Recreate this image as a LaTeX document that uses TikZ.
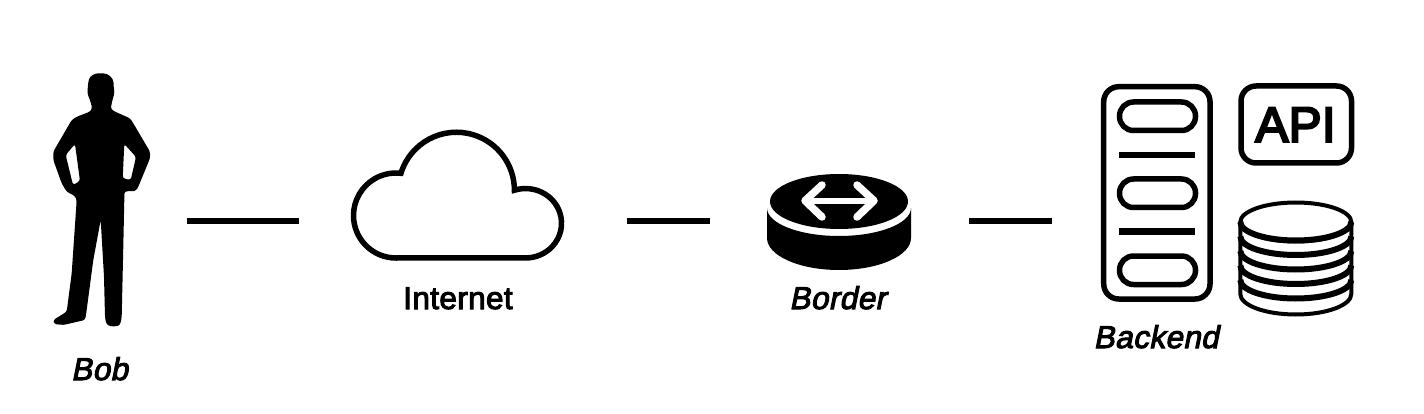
\documentclass[tikz,border=0pt]{standalone}
\usepackage{fontspec}
\setmainfont{Liberation Sans}
\newfontfamily\labelfont[FakeBold=3.2,LetterSpace=1.2]{Liberation Sans}
\newfontfamily\labelit[FakeBold=3.2,FakeSlant=0.2,LetterSpace=1.2]{Liberation Sans}
\newfontfamily\apifont[FakeBold=4.5,LetterSpace=0.5]{Liberation Sans}
\tikzset{
  ink/.style={line width=5.5pt,draw=black},
  wire/.style={line width=6pt,draw=black},
  pill/.style={ink,rounded corners=14pt},
  plain label/.style={font=\labelfont\fontsize{31.5}{34}\selectfont,inner sep=0pt,anchor=base},
  slant label/.style={font=\labelit\fontsize{31.5}{34}\selectfont,inner sep=0pt,anchor=base},
}
\begin{document}
\begin{tikzpicture}[x=1pt,y=-1pt]
\useasboundingbox (0,0) rectangle (1424,414);
\fill[white] (0,0) rectangle (1424,414);
% Bob
\fill[black,even odd rule,rounded corners=2.5pt] (114,89)
  -- (114.5,93) -- (112,101.7) -- (110.7,109)
  -- (115,111.7) -- (130,118.3) -- (133.3,123.3) -- (150,151.7) -- (150,158.3) -- (138.3,186.7)
  .. controls (136,191) and (133,191) .. (131.7,191) -- (124.3,191.5) -- (124.3,200) -- (123.3,246.7)
  -- (121.7,316.7) -- (120.7,323.3) .. controls (118,326.5) and (110,327) .. (106,323.3)
  -- (105,316.7) -- (104,276.7) -- (100.7,220) -- (93.3,260) -- (86,315) -- (85,320)
  -- (63.3,325) -- (54,324) -- (53.3,320) -- (66.7,311.7) -- (71.7,273.3) -- (76.7,200)
  -- (75,196) -- (66.7,191.7) -- (61.7,183.3) -- (53.3,160) -- (53.3,151.7) -- (71.7,120)
  -- (76.7,116.7) -- (90,111.7) -- (92.3,108.3) -- (90,100) -- (87.3,93.3) -- (88.3,81.7)
  .. controls (90,76) and (95,73.3) .. (100.7,73.3)
  .. controls (108,73.3) and (113.5,78) .. (113.5,85) -- cycle
  (75,144) -- (65.7,155) -- (73,185) -- (80,181) -- cycle
  (124.3,144) -- (136,157) -- (130.7,180) -- (122.7,178.3) -- cycle;
% Connectors
\coordinate (bobR) at (187,221);
\coordinate (cloudL) at (299,221);
\coordinate (cloudR) at (627,221);
\coordinate (routerL) at (710,221);
\coordinate (routerR) at (969,221);
\coordinate (backL) at (1052,221);
\draw[wire] (bobR) -- (cloudL);
\draw[wire] (cloudR) -- (routerL);
\draw[wire] (routerR) -- (backL);
% Cloud
\draw[ink,miter limit=10] (396,258) arc[start angle=90,end angle=276.7,radius=42.5]
  arc[start angle=197,end angle=360,radius=58]
  arc[start angle=252,end angle=450,x radius=36,y radius=34.7] -- cycle;
% Router
\fill[black] (767,208) -- (767,238) arc[start angle=180,end angle=0,x radius=72,y radius=32]
  -- (911,208) arc[start angle=0,end angle=180,x radius=72,y radius=28] -- cycle;
\fill[black] (839,201.5) ellipse[x radius=69,y radius=27.5];
\draw[white,line width=6pt,line cap=round] (806,200.7) -- (874,200.7);
\draw[white,line width=7.5pt,line cap=round,line join=round] (822,185) -- (805,200.7) -- (822,217);
\draw[white,line width=7.5pt,line cap=round,line join=round] (857,185) -- (874,200.7) -- (857,217);
% Server
\draw[ink,rounded corners=15pt] (1103.7,86.7) rectangle (1210,299);
\draw[pill] (1119.5,102) rectangle (1195.5,130.5);
\draw[pill] (1119.5,179) rectangle (1195.5,207.5);
\draw[pill] (1119.5,256) rectangle (1195.5,284.5);
\draw[wire] (1119,155) -- (1195,155);
\draw[wire] (1119,231.5) -- (1195,231.5);
% API
\draw[ink,rounded corners=15pt] (1241,86) rectangle (1351.5,163);
\node[inner sep=0pt,anchor=base,font=\apifont\fontsize{49.5}{50}\selectfont] (api) at (1295.5,141.7) {API};
% Database
\draw[line width=4pt] (1240.3,222) -- (1240.3,294) arc[start angle=180,end angle=0,x radius=55.5,y radius=20.5] -- (1351.3,222);
\draw[line width=4pt] (1295.8,222) ellipse[x radius=55.5,y radius=19.5];
\foreach \yy in {222,236.5,251,265.5,280}
  \draw[line width=6pt] (1240.3,\yy) arc[start angle=180,end angle=0,x radius=55.5,y radius=18.5];
% Labels
\node[slant label] (bob) at (99.5,380) {Bob};
\node[plain label] (inet) at (458,309) {Internet};
\node[slant label] (border) at (837.5,309) {Border};
\node[slant label] (backend) at (1156,348) {Backend};
\end{tikzpicture}
\end{document}
